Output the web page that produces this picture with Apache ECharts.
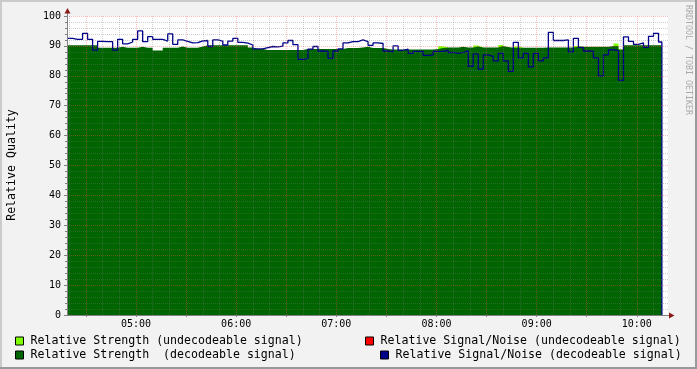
<!DOCTYPE html>
<html><head><meta charset="utf-8">
<script src="https://cdn.jsdelivr.net/npm/echarts@6/dist/echarts.min.js"></script>
<style>html,body{margin:0;padding:0;background:#F2F2F2}#c{width:697px;height:369px}</style>
</head><body><div id="c"></div>
<script>
// time in minutes since midnight
const START_MIN = 259;   // first sample 04:19
const STEP_MIN = 3;      // sample spacing
const END_MIN = 615;     // data ends 10:15
const X_MIN = 258.67, X_MAX = 618.67;

const hourTicks = [300, 360, 420, 480, 540, 600];
const halfHourTicks = [270, 300, 330, 360, 390, 420, 450, 480, 510, 540, 570, 600];
const tenMinTicks = [260, 280, 290, 310, 320, 340, 350, 370, 380, 400, 410, 430, 440, 460, 470, 490, 500, 520, 530, 550, 560, 580, 590, 610];

const strengthDecodeable = [
  90.2, 90.2, 90.2, 90.2, 90.2, 90.2, 89.4, 89.4, 89.4, 89.4,
  89.7, 89.4, 89.4, 89.4, 89.7, 89.4, 89.4, 88.5, 88.5, 89.4,
  89.4, 89.4, 89.8, 89.4, 89.4, 89.4, 89.8, 90.2, 90.2, 90.2,
  90.2, 90.2, 90.2, 90.2, 90.2, 90.2, 89.5, 89.0, 89.0, 88.6,
  88.6, 88.6, 88.6, 88.6, 88.6, 88.6, 88.6, 89.0, 89.0, 89.0,
  89.0, 89.0, 89.0, 89.0, 89.0, 89.3, 89.3, 89.3, 89.5, 89.7,
  89.3, 89.3, 89.3, 89.0, 88.8, 88.8, 88.8, 88.8, 88.8, 88.8,
  88.8, 88.8, 88.8, 89.0, 89.3, 89.5, 89.5, 89.5, 89.7, 89.5,
  89.5, 89.8, 89.5, 89.5, 89.5, 89.5, 90.0, 89.6, 89.4, 89.4,
  89.4, 89.4, 89.4, 89.4, 89.4, 89.5, 89.5, 89.5, 89.5, 89.5,
  89.5, 89.7, 89.7, 89.7, 89.7, 89.7, 89.7, 89.7, 90.0, 90.0,
  88.8, 90.2, 90.2, 90.2, 90.2, 90.2, 90.2, 90.2, 90.2
];

const strengthUndecodeable = [
  null, null, null, null, null, null, null, null, null, null,
  null, null, null, null, null, null, null, null, null, null,
  null, null, null, null, null, null, null, null, null, null,
  null, null, null, null, null, null, null, null, null, null,
  null, null, null, null, null, null, null, null, null, null,
  null, null, null, null, null, null, null, null, null, null,
  null, null, null, null, null, null, null, null, null, null,
  null, null, null, null, 89.9, 89.5, null, null, null, null,
  null, 90.1, 89.5, null, null, null, 90.3, 89.6, null, 89.8,
  89.4, null, null, null, null, null, null, null, null, null,
  null, 90.0, 89.7, null, null, null, null, null, null, 90.8,
  88.8, null, null, null, null, null, null, null, null
];

const snrDecodeable = [
  92.5, 92.2, 92.2, 94.2, 92.2, 88.6, 91.5, 91.4, 91.4, 88.6,
  92.2, 90.7, 91.3, 92.2, 95.0, 91.4, 93.1, 92.2, 92.2, 91.6,
  94.0, 90.5, 92.0, 91.5, 91.0, 91.1, 91.7, 91.8, 89.8, 92.0,
  91.6, 90.3, 91.6, 92.5, 91.2, 90.9, 90.3, 89.0, 89.0, 89.4,
  89.8, 89.7, 89.9, 91.0, 91.8, 90.4, 85.5, 85.8, 88.9, 89.8,
  88.3, 88.2, 85.8, 88.3, 89.0, 91.0, 91.4, 91.4, 92.0, 91.4,
  90.2, 91.0, 90.8, 88.3, 88.0, 90.0, 88.5, 88.9, 87.5, 88.2,
  88.2, 86.8, 87.0, 88.2, 88.2, 88.5, 87.8, 87.5, 87.8, 88.3,
  83.2, 87.3, 82.2, 87.0, 86.5, 85.0, 87.5, 85.0, 81.5, 91.2,
  86.0, 87.5, 83.0, 87.5, 85.0, 86.0, 94.5, 91.8, 91.8, 92.0,
  88.0, 92.5, 89.5, 88.3, 88.2, 86.0, 80.0, 87.0, 88.7, 88.5,
  78.5, 93.0, 91.5, 90.5, 91.0, 89.5, 93.2, 94.2, 91.3
];

const snrUndecodeable = [];

function toPairs(values, closeAtZero) {
  const out = values.map((v, i) => [START_MIN + i * STEP_MIN, v]);
  if (closeAtZero) out.push([END_MIN, 0]);
  return out;
}
const fmt = v => String(Math.floor(v / 60)).padStart(2, '0') + ':' + String(Math.round(v % 60)).padStart(2, '0');

const MONO = 'DejaVu Sans Mono';
const NAMES = [
  'Relative Strength (undecodeable signal)',
  'Relative Strength  (decodeable signal)',
  'Relative Signal/Noise (undecodeable signal)',
  'Relative Signal/Noise (decodeable signal)'
];
const COLORS = ['#80FF00', '#006400', '#FF0000', '#000088'];
const MAJOR_GRID = 'rgba(255,80,80,0.38)';
const MINOR_GRID = 'rgba(120,120,120,0.35)';

const legendBase = {
  orient: 'horizontal', icon: 'rect', itemWidth: 8, itemHeight: 8, selectedMode: false, padding: 0,
  itemStyle: { borderColor: '#000', borderWidth: 1 },
  textStyle: { fontFamily: MONO, fontSize: 11.6, color: '#000', lineHeight: 14, padding: [0, 0, 0, 2] }
};

const chart = echarts.init(document.getElementById('c'), null, { renderer: 'canvas' });
chart.setOption({
  animation: false,
  backgroundColor: '#F2F2F2',
  grid: { left: 67, top: 16, right: 29, bottom: 54, show: true, backgroundColor: '#FFFFFF', borderWidth: 0 },
  xAxis: [
    {
      type: 'value', min: X_MIN, max: X_MAX, position: 'bottom', z: 10,
      axisLine: { show: true, onZero: false, lineStyle: { color: '#808080', width: 1 } },
      axisTick: { show: true, customValues: halfHourTicks, length: 2, lineStyle: { color: '#808080' } },
      axisLabel: { customValues: hourTicks, formatter: fmt, fontFamily: MONO, fontSize: 10, color: '#000', margin: 4 },
      splitLine: { show: true, lineStyle: { color: MAJOR_GRID, width: 1, type: 'dotted' } }
    },
    {
      type: 'value', min: X_MIN, max: X_MAX, position: 'top', z: 9,
      axisLine: { show: false }, axisLabel: { show: false },
      axisTick: { show: false, customValues: tenMinTicks },
      splitLine: { show: true, lineStyle: { color: MINOR_GRID, width: 1, type: 'dotted' } }
    }
  ],
  yAxis: {
    type: 'value', min: 0, max: 100, interval: 10, z: 10,
    axisLine: { show: true, lineStyle: { color: '#808080', width: 1 } },
    axisTick: { show: true, length: 3, lineStyle: { color: '#808080' } },
    minorTick: { show: true, splitNumber: 5, length: 2, lineStyle: { color: '#808080' } },
    axisLabel: { fontFamily: MONO, fontSize: 10, color: '#000', margin: 6 },
    splitLine: { show: true, lineStyle: { color: MAJOR_GRID, width: 1, type: 'dotted' } },
    minorSplitLine: { show: true, lineStyle: { color: MINOR_GRID, width: 1, type: 'dotted' } }
  },
  legend: [
    Object.assign({}, legendBase, { data: [NAMES[0]], left: 15, top: 334 }),
    Object.assign({}, legendBase, { data: [NAMES[1]], left: 15, top: 348 }),
    Object.assign({}, legendBase, { data: [NAMES[2]], left: 365, top: 334 }),
    Object.assign({}, legendBase, { data: [NAMES[3]], left: 380, top: 348 })
  ],
  series: [
    {
      name: NAMES[0], type: 'line', step: 'end', symbol: 'none', silent: true,
      data: toPairs(strengthUndecodeable, false), connectNulls: false,
      itemStyle: { color: COLORS[0] }, lineStyle: { width: 0 }, areaStyle: { color: COLORS[0], opacity: 1 }
    },
    {
      name: NAMES[1], type: 'line', step: 'end', symbol: 'none', silent: true,
      data: toPairs(strengthDecodeable, true),
      itemStyle: { color: COLORS[1] }, lineStyle: { width: 0 }, areaStyle: { color: COLORS[1], opacity: 1 }
    },
    {
      name: NAMES[2], type: 'line', step: 'end', symbol: 'none', silent: true,
      data: toPairs(snrUndecodeable, false),
      itemStyle: { color: COLORS[2] }, lineStyle: { color: COLORS[2], width: 1.3 }
    },
    {
      name: NAMES[3], type: 'line', step: 'end', symbol: 'none', silent: true,
      data: toPairs(snrDecodeable, true),
      itemStyle: { color: COLORS[3] }, lineStyle: { color: COLORS[3], width: 1.3 }
    }
  ],
  graphic: [
    { type: 'rect', shape: { x: 0, y: 0, width: 697, height: 2 }, style: { fill: '#CBCBCB' }, silent: true },
    { type: 'rect', shape: { x: 0, y: 0, width: 2, height: 369 }, style: { fill: '#CBCBCB' }, silent: true },
    { type: 'rect', shape: { x: 0, y: 367, width: 697, height: 2 }, style: { fill: '#999999' }, silent: true },
    { type: 'rect', shape: { x: 695, y: 0, width: 2, height: 369 }, style: { fill: '#999999' }, silent: true },
    { type: 'line', shape: { x1: 67.5, y1: 16, x2: 67.5, y2: 12 }, style: { stroke: '#808080', lineWidth: 1 }, silent: true },
    { type: 'polygon', shape: { points: [[64.5, 13.5], [70.5, 13.5], [67.5, 8]] }, style: { fill: '#8B1A1A' }, silent: true },
    { type: 'line', shape: { x1: 668, y1: 315.5, x2: 671, y2: 315.5 }, style: { stroke: '#808080', lineWidth: 1 }, silent: true },
    { type: 'polygon', shape: { points: [[669, 312.5], [669, 318.5], [674.5, 315.5]] }, style: { fill: '#8B1A1A' }, silent: true },
    {
      type: 'text', x: 11.5, y: 165, rotation: Math.PI / 2, silent: true,
      style: { text: 'Relative Quality', font: '11.6px "DejaVu Sans Mono"', fill: '#000', align: 'center', verticalAlign: 'middle' }
    },
    {
      type: 'text', x: 688, y: 60, rotation: -Math.PI / 2, silent: true,
      style: { text: 'RRDTOOL / TOBI OETIKER', font: '8.3px "DejaVu Sans Mono"', fill: '#AAAAAA', align: 'center', verticalAlign: 'middle' }
    }
  ]
});
</script>
</body></html>
